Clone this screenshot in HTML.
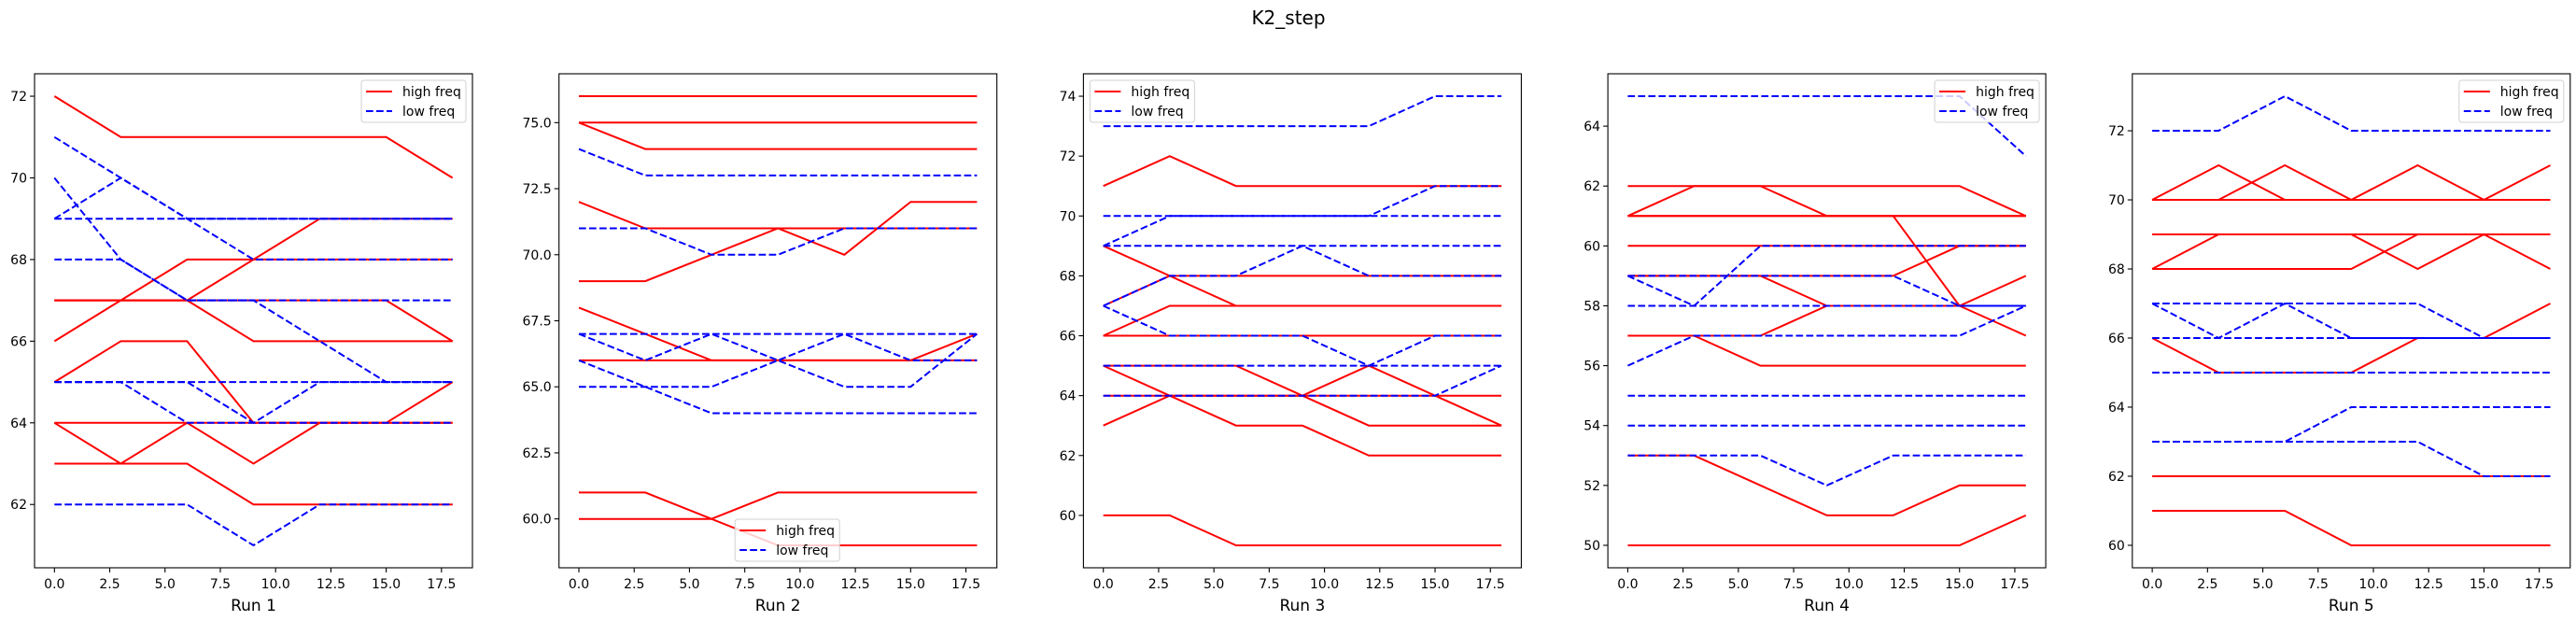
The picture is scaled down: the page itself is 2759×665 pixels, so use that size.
<!DOCTYPE html>
<html><head><meta charset="utf-8"><style>
body{margin:0;background:#fff;}
svg{display:block;font-family:"DejaVu Sans","Liberation Sans",sans-serif;}
</style></head><body>
<svg id="fig" width="2759" height="665" xmlns="http://www.w3.org/2000/svg">
<text x="1380" y="26" font-size="20" text-anchor="middle">K2_step</text>
</svg>
<script>
const xSteps = [0,3,6,9,12,15,18];
const xTicks = [0,2.5,5,7.5,10,12.5,15,17.5];
const runTitles = ["Run 1","Run 2","Run 3","Run 4","Run 5"];
const yTicks1 = [62,64,66,68,70,72];
const yTicks2 = [60,62.5,65,67.5,70,72.5,75];
const yTicks3 = [60,62,64,66,68,70,72,74];
const yTicks4 = [50,52,54,56,58,60,62,64];
const yTicks5 = [60,62,64,66,68,70,72];
const high1 = [[72,71,71,71,71,71,70],[66,67,68,68,68,68,68],[67,67,67,68,69,69,69],[67,67,67,66,66,66,66],[67,67,67,67,67,67,66],[65,66,66,64,64,64,65],[64,64,64,64,64,64,64],[64,63,64,63,64,64,64],[63,63,63,62,62,62,62]];
const low1 = [[71,70,69,68,68,68,68],[70,68,67,67,66,65,65],[69,70,69,69,69,69,69],[69,69,69,69,69,69,69],[68,68,67,67,67,67,67],[65,65,65,65,65,65,65],[65,65,64,64,64,64,64],[65,65,65,64,65,65,65],[62,62,62,61,62,62,62]];
const high2 = [[76,76,76,76,76,76,76],[75,75,75,75,75,75,75],[75,74,74,74,74,74,74],[72,71,71,71,71,71,71],[69,69,70,71,70,72,72],[68,67,66,66,66,66,66],[66,66,66,66,66,66,67],[61,61,60,61,61,61,61],[60,60,60,59,59,59,59]];
const low2 = [[74,73,73,73,73,73,73],[71,71,70,70,71,71,71],[67,67,67,67,67,67,67],[67,66,67,66,65,65,67],[65,65,65,66,67,66,66],[66,65,64,64,64,64,64]];
const high3 = [[71,72,71,71,71,71,71],[69,68,67,67,67,67,67],[67,68,68,68,68,68,68],[66,67,67,67,67,67,67],[66,66,66,66,66,66,66],[65,65,65,64,63,63,63],[65,64,63,63,62,62,62],[63,64,64,64,65,64,63],[64,64,64,64,64,64,64],[60,60,59,59,59,59,59]];
const low3 = [[73,73,73,73,73,74,74],[69,70,70,70,70,71,71],[70,70,70,70,70,70,70],[69,69,69,69,69,69,69],[67,68,68,69,68,68,68],[67,66,66,66,65,66,66],[65,65,65,65,65,65,65],[64,64,64,64,64,64,65]];
const high4 = [[62,62,62,62,62,62,61],[61,62,62,61,61,61,61],[61,61,61,61,61,61,61],[61,61,61,61,61,58,57],[59,59,59,58,58,58,59],[59,59,59,59,59,60,60],[60,60,60,60,60,60,60],[57,57,57,58,58,58,58],[57,57,56,56,56,56,56],[53,53,52,51,51,52,52],[50,50,50,50,50,50,51]];
const low4 = [[65,65,65,65,65,65,63],[59,58,60,60,60,60,60],[58,58,58,58,58,58,58],[59,59,59,59,59,58,58],[56,57,57,57,57,57,58],[55,55,55,55,55,55,55],[54,54,54,54,54,54,54],[53,53,53,52,53,53,53]];
const high5 = [[70,71,70,70,70,70,70],[70,70,71,70,71,70,71],[70,70,70,70,70,70,70],[69,69,69,69,69,69,69],[68,69,69,69,68,69,68],[68,68,68,68,69,69,69],[66,65,65,65,66,66,67],[62,62,62,62,62,62,62],[61,61,61,60,60,60,60]];
const low5 = [[72,72,73,72,72,72,72],[67,67,67,67,67,66,66],[67,66,67,66,66,66,66],[66,66,66,66,66,66,66],[65,65,65,65,65,65,65],[63,63,63,64,64,64,64],[63,63,63,63,63,62,62]];

const panels = [
 {hi:high1,lo:low1,ticks:yTicks1,dec:0,leg:"ur"},
 {hi:high2,lo:low2,ticks:yTicks2,dec:1,leg:"lc"},
 {hi:high3,lo:low3,ticks:yTicks3,dec:0,leg:"ul"},
 {hi:high4,lo:low4,ticks:yTicks4,dec:0,leg:"ur"},
 {hi:high5,lo:low5,ticks:yTicks5,dec:0,leg:"ur"}
];
const NS="http://www.w3.org/2000/svg";
const fig=document.getElementById('fig');
function mk(tag,attrs,parent){const e=document.createElementNS(NS,tag);for(const k in attrs)e.setAttribute(k,attrs[k]);parent.appendChild(e);return e;}
const TOP=79,BOT=608,W=469;
panels.forEach((p,i)=>{
  const L=37+561.7*i;
  const g=mk('g',{},fig);
  
  
  const all=p.hi.concat(p.lo).flat();
  const mn=Math.min(...all),mx=Math.max(...all);
  const pad=(mx-mn)*0.05;
  const y0=mn-pad,y1=mx+pad;
  const xMin=-0.9,xMax=18.9;
  const sx=v=>L+(v-xMin)/(xMax-xMin)*W;
  const sy=v=>BOT-(v-y0)/(y1-y0)*(BOT-TOP);
  const drawSet=(set,color,dash,nm)=>set.forEach((s,j)=>{
    const pts=s.map((v,k)=>sx(xSteps[k]).toFixed(1)+','+sy(v).toFixed(1)).join(' ');
    const a={points:pts,fill:'none',stroke:color,'stroke-width':2};
    if(dash)a['stroke-dasharray']='7.7,3.3';
    const pl=mk('polyline',a,g);
    
    
  });
  drawSet(p.hi,'#ff0000',false,'high-freq');
  drawSet(p.lo,'#0000ff',true,'low-freq');
  const fr=mk('rect',{x:L,y:TOP,width:W,height:BOT-TOP,fill:'none',stroke:'#000','stroke-width':1.1},g);
  
  
  xTicks.forEach(t=>{
    const x=sx(t);
    mk('line',{x1:x,x2:x,y1:BOT,y2:BOT+5,stroke:'#000','stroke-width':1.1},g);
    const tx=mk('text',{x:x,y:630,'font-size':14,'text-anchor':'middle',fill:'#000'},g);
    tx.textContent=t.toFixed(1);
    
    
  });
  p.ticks.forEach(t=>{
    const y=sy(t);
    mk('line',{x1:L-5,x2:L,y1:y,y2:y,stroke:'#000','stroke-width':1.1},g);
    const tx=mk('text',{x:L-8,y:y+5,'font-size':14,'text-anchor':'end',fill:'#000'},g);
    tx.textContent=t.toFixed(p.dec);
    
    
  });
  const xl=mk('text',{x:L+W/2,y:654,'font-size':17,'text-anchor':'middle',fill:'#000'},g);
  xl.textContent=runTitles[i];
  
  
  const lw=112,lh=45;
  let lx,ly;
  if(p.leg==='ur'){lx=L+W-lw-7;ly=TOP+7;}
  else if(p.leg==='ul'){lx=L+7;ly=TOP+7;}
  else {lx=L+W/2-lw/2+10;ly=BOT-lh-7;}
  const lg=mk('g',{},g);
  
  
  mk('rect',{x:lx,y:ly,width:lw,height:lh,rx:3,fill:'#fff','fill-opacity':0.8,stroke:'#d0d0d0','stroke-width':1},lg);
  mk('line',{x1:lx+5,x2:lx+33,y1:ly+12,y2:ly+12,stroke:'#ff0000','stroke-width':2},lg);
  mk('line',{x1:lx+5,x2:lx+33,y1:ly+33,y2:ly+33,stroke:'#0000ff','stroke-width':2,'stroke-dasharray':'7.7,3.3'},lg);
  const t1=mk('text',{x:lx+44,y:ly+17,'font-size':14,fill:'#000'},lg);t1.textContent='high freq';
  
  
  const t2=mk('text',{x:lx+44,y:ly+38,'font-size':14,fill:'#000'},lg);t2.textContent='low freq';
  
  
});
</script>
</body></html>
